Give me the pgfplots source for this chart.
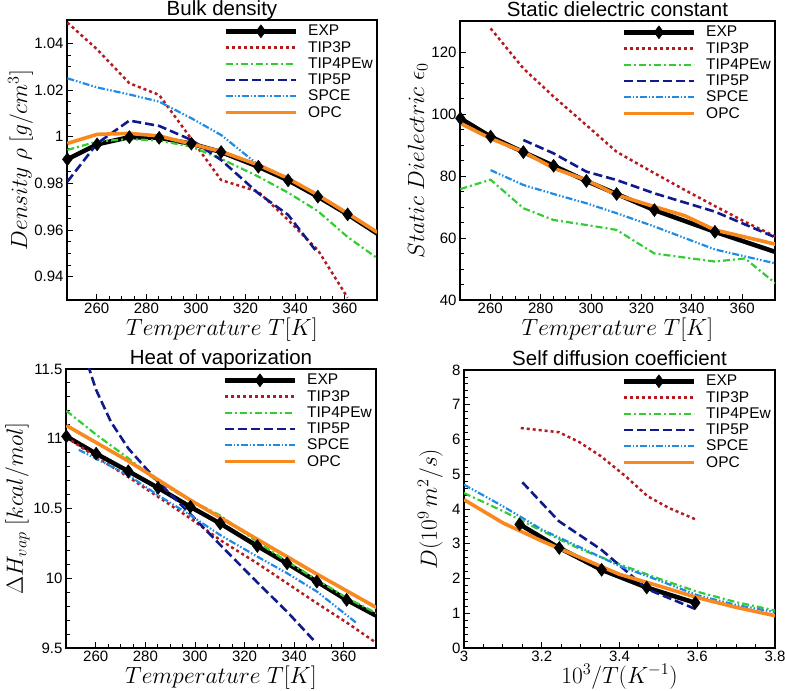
\documentclass[border=0pt]{standalone}
\usepackage{fontspec}
\setmainfont{Liberation Sans}
\usepackage{pgfplots}
\pgfplotsset{compat=1.18}

\definecolor{cT3}{RGB}{180,26,30}
\definecolor{cT4}{RGB}{50,205,50}
\definecolor{cT5}{RGB}{16,26,140}
\definecolor{cSP}{RGB}{30,140,230}
\definecolor{cOPC}{RGB}{247,137,31}

\pgfplotsset{
  panel/.style={
    scale only axis, anchor=south west,
    tick pos=left, tick align=inside,
    major tick length=6pt, minor tick length=3.5pt,
    every tick/.style={black, line width=0.9pt},
    axis line style={line width=1.2pt},
    tick label style={font=\fontsize{15}{16}\selectfont},
    xticklabel style={inner sep=1pt, yshift=-2pt},
    /pgf/number format/assume math mode=true,
    title style={font=\fontsize{20.5}{22}\selectfont, anchor=base, at={(0.5,1)}, yshift=-1.5pt},
    label style={font=\fontsize{20.74}{24}\selectfont, inner sep=0pt, scale=1.13},
    xlabel style={at={(axis description cs:0.5,0)}, anchor=base, yshift=-31.4pt},
    legend style={draw=none, fill=none, at={(1,1)}, anchor=north east,
      xshift=-2pt, yshift=-3pt, inner sep=0pt,
      font=\fontsize{15.5}{16}\selectfont, row sep=0pt,
      /tikz/every odd column/.append style={column sep=8pt}},
    legend cell align=left,
    legend image code/.code={\draw[mark repeat=2,mark phase=2,##1]
      plot coordinates {(0pt,0pt) (35pt,0pt) (70pt,0pt)};},
  },
  sEXP/.style={black, line width=4.5pt, mark=diamond*, mark size=6.5pt,
    mark options={solid, line width=0.5pt}},
  sT3/.style={cT3, line width=2.5pt, dash pattern=on 3pt off 3pt},
  sT4/.style={cT4, line width=2.2pt, dash pattern=on 7pt off 3pt on 2pt off 3pt},
  sT5/.style={cT5, line width=2.6pt, dash pattern=on 9pt off 4pt},
  sSP/.style={cSP, line width=2.2pt, dash pattern=on 7pt off 2pt on 1.5pt off 2pt on 1.5pt off 2pt},
  sOPC/.style={cOPC, line width=3.6pt},
}

\begin{document}
\begin{tikzpicture}
\useasboundingbox (0,0) rectangle (785pt,691pt);

% Bulk density
\begin{axis}[panel, at={(67pt,391pt)}, width=310pt, height=280pt,
  title={Bulk density},
  xmin=248, xmax=373, ymin=0.93, ymax=1.05,
  xtick={260,280,...,360}, ytick={0.94,0.96,...,1.041},
  minor x tick num=3, minor y tick num=3,
  xlabel={$Temperature\ T[K]$},
  ylabel={$Density\ \rho\ [g/cm^3]$},
  ylabel style={at={(axis description cs:-0.129,0.5)}, anchor=base},
]
\addplot[sEXP] coordinates {(248.15,0.9903) (260.15,0.9967) (273.15,0.9998) (285.15,0.9995) (298.15,0.9970) (310.15,0.9934) (325.15,0.9871) (337.15,0.9813) (349.15,0.9743) (361.15,0.9667) (373.15,0.9584)};
\addplot[sT3] coordinates {(248.15,1.0489) (260.15,1.0374) (273.15,1.0229) (285.15,1.0179) (298.15,0.9990) (310.15,0.9814) (325.15,0.9764) (337.15,0.9643) (349.15,0.9514) (361.15,0.9310)};
\addplot[sT4] coordinates {(248.15,0.9943) (260.15,0.9979) (273.15,0.9990) (285.15,0.9983) (298.15,0.9957) (310.15,0.9905) (325.15,0.9829) (337.15,0.9760) (349.15,0.9681) (361.15,0.9570) (373.15,0.9479)};
\addplot[sT5] coordinates {(248.15,0.9807) (260.15,0.9971) (273.15,1.0069) (285.15,1.0046) (298.15,0.9986) (310.15,0.9900) (325.15,0.9757) (337.15,0.9665) (348.15,0.9514)};
\addplot[sSP] coordinates {(248.15,1.0250) (260.15,1.0211) (273.15,1.0181) (285.15,1.0150) (298.15,1.0079) (310.15,1.0007) (325.15,0.9879)};
\addplot[sOPC] coordinates {(248.15,0.9971) (260.15,1.0010) (273.15,1.0014) (285.15,1.0003) (298.15,0.9969) (310.15,0.9936) (325.15,0.9879) (337.15,0.9821) (349.15,0.9750) (361.15,0.9671) (373.15,0.9590)};
\legend{EXP,TIP3P,TIP4PEw,TIP5P,SPCE,OPC}
\end{axis}

% Static dielectric constant
\begin{axis}[panel, at={(460pt,391pt)}, width=315pt, height=279pt,
  title={Static dielectric constant},
  xmin=248, xmax=373, ymin=40, ymax=130,
  xtick={260,280,...,360}, ytick={40,60,...,120},
  minor x tick num=3, minor y tick num=3,
  xlabel={$Temperature\ T[K]$},
  ylabel={$Static\ Dielectric\ \epsilon_0$},
  ylabel style={at={(axis description cs:-0.114,0.5)}, anchor=base},
]
\addplot[sEXP] coordinates {(248.15,98.6) (260.15,92.7) (273.15,87.7) (285.15,83.3) (298.15,78.4) (310.15,74.2) (325.15,69.0) (349.15,62.0) (373.15,55.5)};
\addplot[sT3] coordinates {(260.15,127.6) (273.15,114.7) (285.15,105.6) (298.15,96.4) (310.15,87.8) (325.15,80.9) (337.15,75.5) (349.15,70.3) (361.15,65.2) (373.15,60.5)};
\addplot[sT4] coordinates {(248.15,75.8) (260.15,78.8) (273.15,69.6) (285.15,65.8) (298.15,64.2) (310.15,62.6) (325.15,55.0) (349.15,52.4) (361.15,53.4) (373.15,45.4)};
\addplot[sT5] coordinates {(273.15,91.6) (285.15,87.3) (298.15,81.4) (310.15,78.7) (325.15,74.4) (349.15,68.5) (373.15,60.2)};
\addplot[sSP] coordinates {(260.15,81.9) (273.15,77.1) (285.15,74.2) (298.15,71.2) (310.15,68.0) (325.15,63.7) (349.15,56.3) (373.15,51.8)};
\addplot[sOPC] coordinates {(248.15,97.0) (260.15,92.1) (273.15,87.8) (285.15,82.5) (298.15,78.7) (310.15,73.9) (325.15,70.1) (337.15,67.2) (349.15,62.6) (373.15,58.0)};
\legend{EXP,TIP3P,TIP4PEw,TIP5P,SPCE,OPC}
\end{axis}

% Heat of vaporization
\begin{axis}[panel, at={(66pt,43pt)}, width=310pt, height=279pt,
  title={Heat of vaporization},
  xmin=248, xmax=373, ymin=9.5, ymax=11.5,
  xtick={260,280,...,360}, ytick={9.5,10,...,11.5},
  minor x tick num=3, minor y tick num=4,
  xlabel={$Temperature\ T[K]$},
  ylabel={$\Delta H_{vap}\ [kcal/mol]$},
  ylabel style={at={(axis description cs:-0.139,0.5)}, anchor=base},
]
\addplot[sEXP] coordinates {(248.15,11.017) (260.15,10.893) (273.15,10.767) (285.15,10.648) (298.15,10.512) (310.15,10.393) (325.15,10.231) (337.15,10.107) (349.15,9.976) (361.15,9.845) (373.15,9.731)};
\addplot[sT3] coordinates {(248.15,11.01) (260.15,10.87) (273.15,10.726) (285.15,10.583) (298.15,10.429) (310.15,10.274) (325.15,10.107) (337.15,9.964) (349.15,9.821) (361.15,9.683) (373.15,9.536)};
\addplot[sT4] coordinates {(248.15,11.20) (260.15,11.03) (273.15,10.86) (285.15,10.69) (298.15,10.56) (310.15,10.45) (325.15,10.26) (337.15,10.12) (349.15,9.99) (361.15,9.86) (373.15,9.75)};
\addplot[sT5] coordinates {(255.15,11.62) (260.15,11.35) (266.15,11.12) (273.15,10.93) (285.15,10.69) (298.15,10.46) (310.15,10.24) (325.15,9.97) (337.15,9.76) (348.15,9.55)};
\addplot[sSP] coordinates {(253.15,10.921) (260.15,10.857) (273.15,10.738) (285.15,10.595) (298.15,10.452) (310.15,10.31) (325.15,10.155) (337.15,10.036) (349.15,9.905) (365.15,9.679)};
\addplot[sOPC] coordinates {(248.15,11.095) (273.15,10.84) (298.15,10.56) (323.15,10.30) (348.15,10.04) (373.15,9.79)};
\legend{EXP,TIP3P,TIP4PEw,TIP5P,SPCE,OPC}
\end{axis}

% Self diffusion coefficient
\begin{axis}[panel, at={(464pt,43pt)}, width=311pt, height=278pt,
  title={Self diffusion coefficient},
  xmin=3, xmax=3.8, ymin=0, ymax=8,
  xtick={3,3.2,...,3.81}, ytick={0,1,...,8},
  minor x tick num=3, minor y tick num=4,
  xlabel={$10^3/T(K^{-1})$},
  ylabel={$D(10^9\,m^2/s)$},
  ylabel style={at={(axis description cs:-0.087,0.5)}, anchor=base},
]
\addplot[sEXP] coordinates {(3.143,3.56) (3.245,2.88) (3.354,2.25) (3.470,1.74) (3.595,1.30)};
\addplot[sT3] coordinates {(3.146,6.33) (3.244,6.21) (3.296,5.93) (3.352,5.52) (3.416,4.94) (3.472,4.37) (3.527,4.03) (3.596,3.70)};
\addplot[sT4] coordinates {(3.0,4.46) (3.1,3.94) (3.2,3.37) (3.3,2.84) (3.4,2.41) (3.5,2.00) (3.6,1.62) (3.7,1.32) (3.8,1.08)};
\addplot[sT5] coordinates {(3.150,4.77) (3.244,3.65) (3.352,2.84) (3.472,1.69) (3.596,1.12)};
\addplot[sSP] coordinates {(3.0,4.70) (3.1,4.08) (3.2,3.41) (3.3,2.89) (3.4,2.36) (3.5,1.95) (3.6,1.52) (3.7,1.24) (3.8,1.03)};
\addplot[sOPC] coordinates {(3.0,4.27) (3.1,3.60) (3.2,3.08) (3.3,2.60) (3.4,2.12) (3.5,1.79) (3.6,1.45) (3.7,1.17) (3.8,0.93)};
\legend{EXP,TIP3P,TIP4PEw,TIP5P,SPCE,OPC}
\end{axis}
\end{tikzpicture}
\end{document}
